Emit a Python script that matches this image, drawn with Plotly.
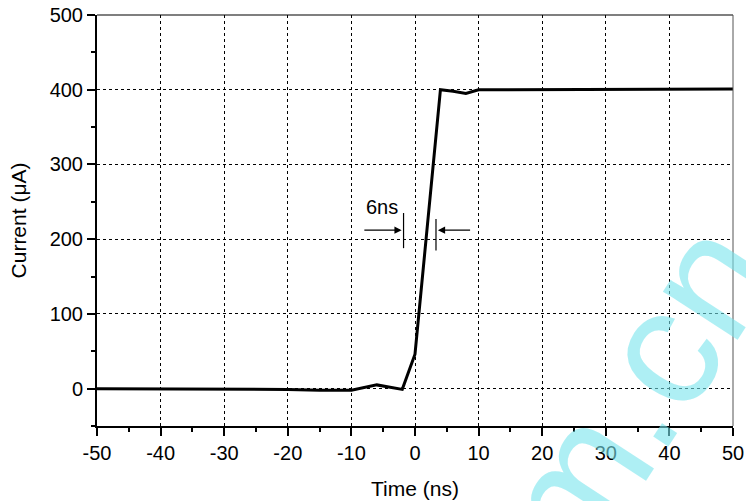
import plotly.graph_objects as go

# data
time_ns = [-50, -40, -30, -20, -15, -10, -6, -2, 0, 4, 6, 8, 10, 20, 30, 40, 50]
current_uA = [0, 0, 0, -1, -2, -2, 5, -1, 46, 400, 398, 395, 400, 400, 400, 401, 401]

x_ticks = [-50, -40, -30, -20, -10, 0, 10, 20, 30, 40, 50]
y_ticks = [0, 100, 200, 300, 400, 500]

FONT = "Liberation Sans, Arial, sans-serif"

fig = go.Figure()
fig.add_trace(go.Scatter(x=time_ns, y=current_uA, mode="lines",
                         line=dict(color="black", width=3), showlegend=False))

axis_common = dict(
    showline=True, linecolor="black", linewidth=2, mirror=False,
    ticks="outside", ticklen=8, tickwidth=1.5, tickcolor="black",
    showgrid=True, gridcolor="black", gridwidth=1.3, griddash="dot",
    zeroline=False, automargin=False, ticklabeloverflow="allow",
    tickfont=dict(family=FONT, size=20, color="black"),
)

fig.update_xaxes(range=[-50, 50], tickvals=x_ticks, ticktext=[str(v) for v in x_ticks],
                 title=dict(text="Time (ns)", font=dict(family=FONT, size=21, color="black"), standoff=18),
                 minor=dict(dtick=5, tick0=0, ticks="outside", ticklen=4, tickcolor="black", tickwidth=1.5, showgrid=False),
                 **axis_common)
fig.update_yaxes(range=[-50, 500], tickvals=y_ticks, ticktext=[str(v) for v in y_ticks],
                 title=dict(text="Current (\u03bcA)", font=dict(family=FONT, size=21, color="black"), standoff=17),
                 minor=dict(dtick=50, tick0=0, ticks="outside", ticklen=4, tickcolor="black", tickwidth=1.5, showgrid=False),
                 **axis_common)

# thin frame on top and right
fig.add_shape(type="line", xref="paper", yref="paper", x0=0, x1=1, y0=1, y1=1,
              line=dict(color="black", width=1.2))
fig.add_shape(type="line", xref="paper", yref="paper", x0=1, x1=1, y0=0, y1=1,
              line=dict(color="#555", width=1))

# 6ns annotation: bars and arrows
fig.add_shape(type="line", x0=-1.8, x1=-1.8, y0=188, y1=235, line=dict(color="black", width=1.2))
fig.add_shape(type="line", x0=3.3, x1=3.3, y0=185, y1=227, line=dict(color="black", width=1.2))
fig.add_annotation(x=-2.1, y=212, ax=-8.2, ay=212, xref="x", yref="y", axref="x", ayref="y",
                   text="", showarrow=True, arrowhead=2, arrowsize=1.2, arrowwidth=1.2, arrowcolor="black")
fig.add_annotation(x=3.6, y=212, ax=8.9, ay=212, xref="x", yref="y", axref="x", ayref="y",
                   text="", showarrow=True, arrowhead=2, arrowsize=1.2, arrowwidth=1.2, arrowcolor="black")
fig.add_annotation(x=-5.2, y=243, text="6ns", showarrow=False,
                   font=dict(family=FONT, size=20, color="black"))

# watermark
fig.add_annotation(xref="paper", yref="paper", x=0.845, y=0.083, xanchor="center", yanchor="middle",
                   text="m.cn", showarrow=False,
                   textangle=-57, font=dict(family=FONT, size=168, color="rgba(120,228,236,0.6)"))

fig.update_layout(
    width=746, height=501,
    margin=dict(l=97, r=13, t=15, b=75),
    plot_bgcolor="white", paper_bgcolor="white",
)

# remove the default page margin so the figure fills the 746x501 window exactly
fig.write_html("out.html", config={"displayModeBar": False},
               post_script="document.body.style.margin='0';document.body.style.overflow='hidden';")
